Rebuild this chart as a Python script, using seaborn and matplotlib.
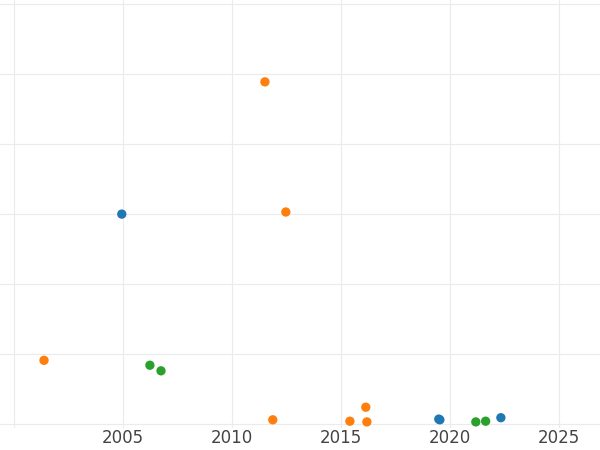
import numpy as np
import pandas as pd
import matplotlib.pyplot as plt
import seaborn as sns

blue_x = [2004.95, 2019.5, 2019.55, 2022.35]
blue_y = [3.0, 0.07, 0.06, 0.09]
orange_x = [2001.38, 2011.52, 2012.48, 2011.88, 2015.42, 2016.15, 2016.2]
orange_y = [0.91, 4.89, 3.03, 0.06, 0.04, 0.24, 0.03]
green_x = [2006.24, 2006.75, 2021.2, 2021.65]
green_y = [0.84, 0.76, 0.03, 0.04]

df = pd.DataFrame({
    'year': blue_x + orange_x + green_x,
    'value': blue_y + orange_y + green_y,
    'group': ['a'] * len(blue_x) + ['b'] * len(orange_x) + ['c'] * len(green_x),
})

sns.set_style('white')
fig = plt.figure(figsize=(6, 4.5), dpi=100)
ax = fig.add_axes([0, 0.05, 1, 0.95])
sns.scatterplot(data=df, x='year', y='value', hue='group',
                palette=['#1f77b4', '#ff7f0e', '#2ca02c'], s=45, edgecolor='none',
                legend=False, ax=ax, clip_on=False)
ax.set_xlim(1999.36, 2026.9)
ax.set_ylim(-0.05, 6.06)
ax.set_xticks([2000, 2005, 2010, 2015, 2020, 2025])
ax.set_xticklabels(['', '2005', '2010', '2015', '2020', '2025'])
ax.set_yticks(range(7))
ax.set_yticklabels([])
ax.grid(True, color='#ebebeb', linewidth=0.8)
ax.set_axisbelow(True)
ax.tick_params(axis='x', length=0, labelsize=12, colors='#444444', pad=1)
ax.tick_params(axis='y', length=0)
for s in ax.spines.values():
    s.set_visible(False)
ax.set_xlabel('')
ax.set_ylabel('')
fig.savefig('out.png', dpi=100)
